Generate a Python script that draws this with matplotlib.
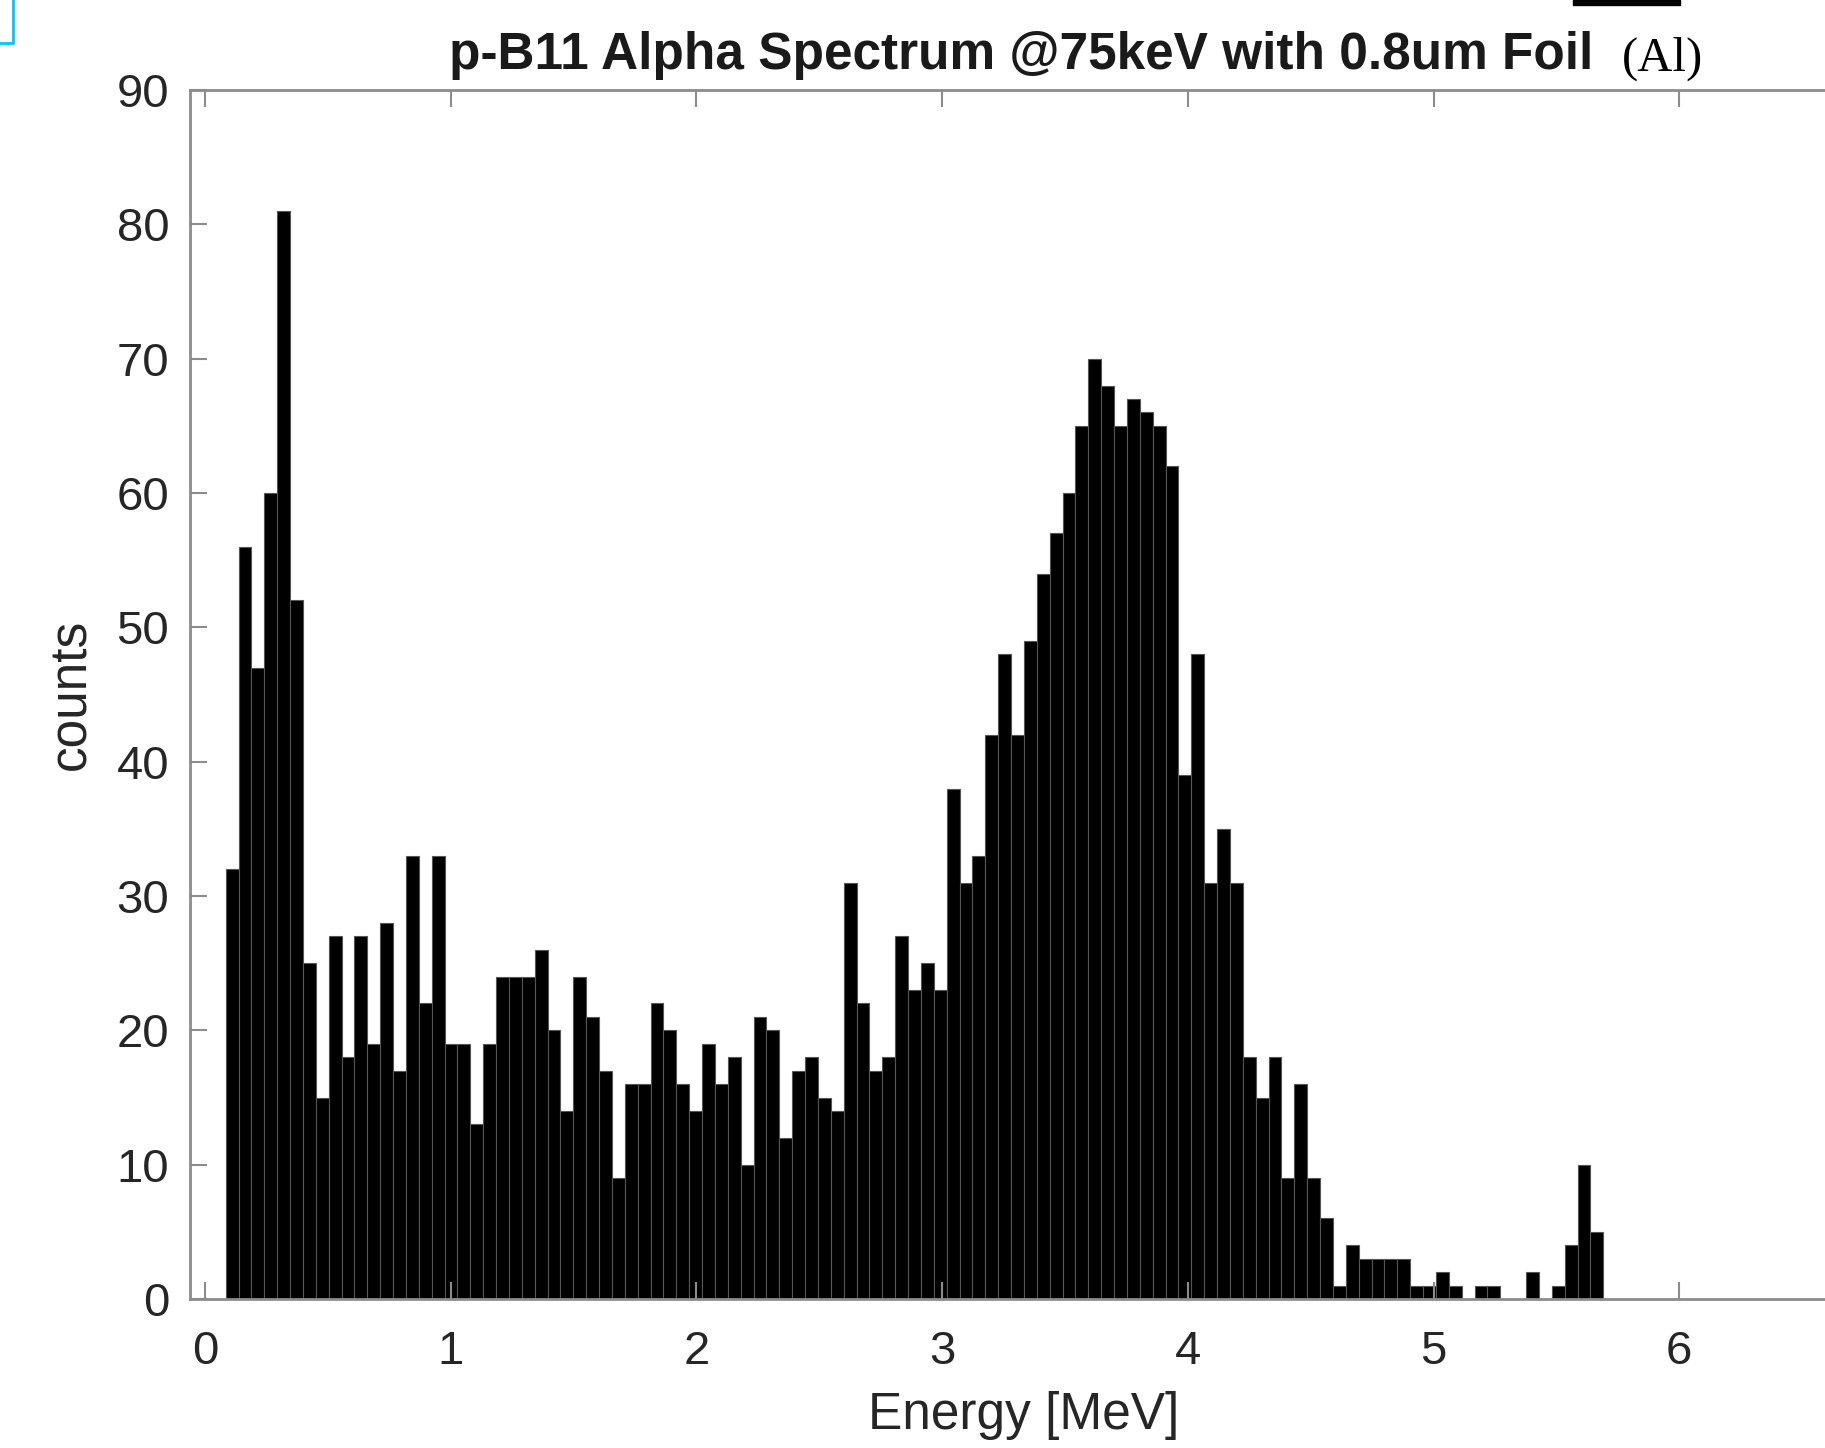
import numpy as np
import matplotlib
matplotlib.use('Agg')
import matplotlib.pyplot as plt
from matplotlib.patches import Rectangle

# Contagens do histograma, uma por bin
counts = [32, 56, 47, 60, 81, 52, 25, 15, 27, 18,
          27, 19, 28, 17, 33, 22, 33, 19, 19, 13,
          19, 24, 24, 24, 26, 20, 14, 24, 21, 17,
          9, 16, 16, 22, 20, 16, 14, 19, 16, 18,
          10, 21, 20, 12, 17, 18, 15, 14, 31, 22,
          17, 18, 27, 23, 25, 23, 38, 31, 33, 42,
          48, 42, 49, 54, 57, 60, 65, 70, 68, 65,
          67, 66, 65, 62, 39, 48, 31, 35, 31, 18,
          15, 18, 9, 16, 9, 6, 1, 4, 3, 3,
          3, 3, 1, 1, 2, 1, 0, 1, 1, 0,
          0, 2, 0, 1, 4, 10, 5]
bin_start = 0.084   # MeV
bin_width = 0.0524  # MeV

xticks = [0, 1, 2, 3, 4, 5, 6]
yticks = [0, 10, 20, 30, 40, 50, 60, 70, 80, 90]

plt.rcParams['font.family'] = ['Liberation Sans', 'DejaVu Sans']

W, H = 1825, 1448
fig = plt.figure(figsize=(W / 100, H / 100), dpi=100)
ax = fig.add_axes([190 / W, 149 / H, 1735 / W, 1209 / H])

edges = bin_start + bin_width * np.arange(len(counts))
ax.bar(edges, counts, width=bin_width, align='edge', color='black',
       edgecolor='#555555', linewidth=0.8)

ax.set_xlim(-0.061, 7)
ax.set_ylim(0, 90)
ax.set_xticks(xticks)
ax.set_yticks(yticks)

axcol = '#8c8c8c'
for s in ax.spines.values():
    s.set_color(axcol)
    s.set_linewidth(2)
ax.tick_params(direction='in', length=12, width=1.5, color=axcol,
               labelsize=34, labelcolor='#262626', top=True)
ax.tick_params(axis='x', pad=22)
ax.tick_params(axis='y', pad=15)

ax.set_xlabel('Energy [MeV]', fontsize=37, color='#262626', va='center')
ax.xaxis.set_label_coords((1023.5 - 190) / 1735, -(1415 - 1299) / 1209)
ax.set_ylabel('counts', fontsize=37, color='#262626', va='center')
ax.yaxis.set_label_coords((72 - 190) / 1735, (1299 - 694) / 1209)

# título posicionado como no original
fig.text(1021 / W, 1 - 56 / H, 'p-B11 Alpha Spectrum @75keV with 0.8um Foil',
         fontsize=37, fontweight='bold', color='#1a1a1a', ha='center', va='center')

# "(Al)" em fonte serifada ao lado do título
fig.text(1662 / W, 1 - 59 / H, '(Al)', fontsize=35, family='Liberation Serif',
         ha='center', va='center', color='black')

# Artefatos do recorte: barra preta no topo e caixa ciano
fig.patches.append(Rectangle((1573 / W, 1 - 5 / H), 107 / W, 5 / H,
                             transform=fig.transFigure, color='black'))
fig.lines.append(plt.Line2D([13 / W, 13 / W, 0], [1, 1 - 43 / H, 1 - 43 / H],
                            transform=fig.transFigure, color='#00c8ff', linewidth=2))

fig.savefig('out.png', dpi=100)
